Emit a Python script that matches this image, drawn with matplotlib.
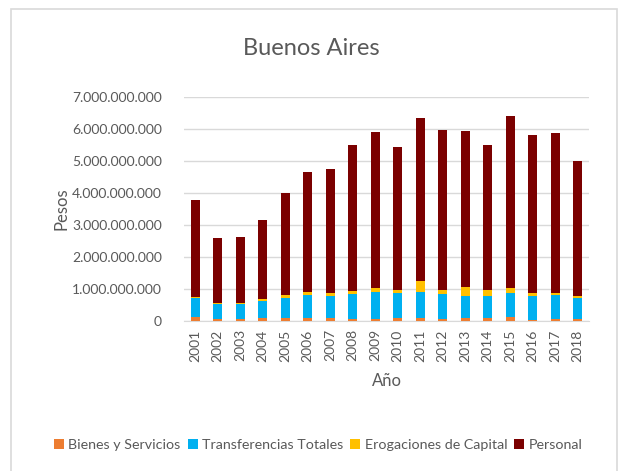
import numpy as np
import matplotlib
matplotlib.use("Agg")
import matplotlib.pyplot as plt
from matplotlib.patches import Rectangle
from matplotlib.ticker import FuncFormatter

anios = ["2001", "2002", "2003", "2004", "2005", "2006", "2007", "2008", "2009",
         "2010", "2011", "2012", "2013", "2014", "2015", "2016", "2017", "2018"]

# valores acumulados (en miles de millones)
tope_bienes = [0.11, 0.05, 0.07, 0.08, 0.08, 0.10, 0.08, 0.05, 0.05,
               0.08, 0.08, 0.07, 0.08, 0.08, 0.13, 0.04, 0.06, 0.07]
tope_transf = [0.73, 0.54, 0.53, 0.62, 0.73, 0.80, 0.78, 0.84, 0.91,
               0.86, 0.91, 0.85, 0.79, 0.77, 0.88, 0.79, 0.82, 0.72]
tope_capital = [0.75, 0.55, 0.56, 0.69, 0.82, 0.90, 0.88, 0.94, 1.02,
                0.97, 1.25, 0.97, 1.05, 0.96, 1.04, 0.86, 0.88, 0.78]
tope_total = [3.78, 2.60, 2.62, 3.17, 3.99, 4.67, 4.74, 5.49, 5.91,
              5.45, 6.33, 5.97, 5.95, 5.49, 6.42, 5.81, 5.86, 5.01]

escala = 1e9
bienes = np.array(tope_bienes) * escala
transferencias = (np.array(tope_transf) - np.array(tope_bienes)) * escala
capital = (np.array(tope_capital) - np.array(tope_transf)) * escala
personal = (np.array(tope_total) - np.array(tope_capital)) * escala

series = [
    ("Bienes y Servicios", bienes, "#ED7D31"),
    ("Transferencias Totales", transferencias, "#00B0F0"),
    ("Erogaciones de Capital", capital, "#FFC000"),
    ("Personal", personal, "#7B0000"),
]

gris = "#595959"
plt.rcParams["font.family"] = ["Lato", "DejaVu Sans"]

fig = plt.figure(figsize=(6.18, 4.71), dpi=100)
fig.patches.append(Rectangle((11 / 618, -0.01), 606 / 618, 1 - 9 / 471 + 0.01,
                             transform=fig.transFigure, fill=False,
                             edgecolor="#D9D9D9", lw=1.2))

ax = fig.add_axes([184 / 618, 150 / 471, 405 / 618, 224 / 471])
x = np.arange(len(anios))
base = np.zeros(len(anios))
for nombre, vals, col in series:
    ax.bar(x, vals, bottom=base, width=0.4, color=col, label=nombre, zorder=3)
    base += vals

ax.set_xlim(-0.5, len(anios) - 0.5)
ax.set_ylim(0, 7e9)
ax.set_yticks(np.arange(0, 7.01e9, 1e9))
ax.yaxis.set_major_formatter(FuncFormatter(lambda v, p: f"{v:,.0f}".replace(",", ".")))
ax.set_xticks(x)
ax.set_xticklabels(anios, rotation=90)
ax.grid(axis="y", color="#D9D9D9", lw=1, zorder=0)
for s in ["top", "right", "left"]:
    ax.spines[s].set_visible(False)
ax.spines["bottom"].set_color("#D9D9D9")
ax.tick_params(length=0, colors=gris, labelsize=10)
ax.tick_params(axis="y", pad=16)
ax.tick_params(axis="x", pad=6)

ax.set_xlabel("Año", color=gris, fontsize=12, labelpad=8)
ax.set_ylabel("Pesos", color=gris, fontsize=12, labelpad=2)
fig.text(0.503, 0.897, "Buenos Aires", ha="center", va="center",
         fontsize=17, color=gris)

fig.legend(loc="center", bbox_to_anchor=(0.515, 0.055), ncol=4, frameon=False,
           handlelength=0.7, handleheight=0.7, handletextpad=0.3,
           columnspacing=0.5, fontsize=10.3, labelcolor=gris)

fig.savefig("out.png", dpi=100)
